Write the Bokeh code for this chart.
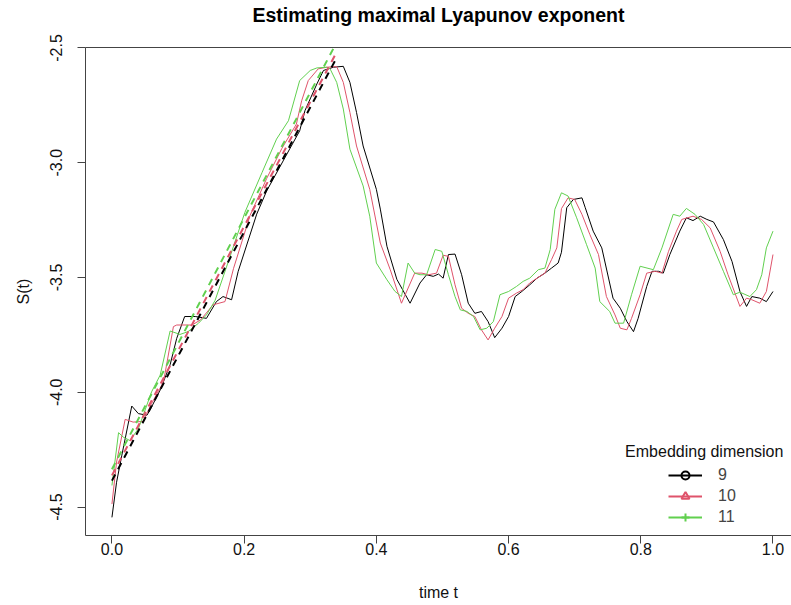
from bokeh.plotting import figure
from bokeh.models import (LinearAxis, FixedTicker, PrintfTickFormatter, Legend,
                          LegendItem, Label, Range1d)
from bokeh.embed import file_html
from bokeh.resources import INLINE

# ---------------- data ----------------
dims = ["9", "10", "11"]
colors = ["#000000", "#DF536B", "#61D04F"]
markers = ["circle", "triangle", "cross"]
marker_sizes = [6, 9, 11]

t9 = [0.000, 0.007, 0.015, 0.030, 0.040, 0.053, 0.060, 0.073, 0.088, 0.098, 0.110, 0.126,
      0.143, 0.158, 0.168, 0.181, 0.191, 0.219, 0.234, 0.259, 0.284, 0.292, 0.310, 0.320,
      0.335, 0.350, 0.360, 0.370, 0.380, 0.400, 0.406, 0.416, 0.431, 0.451, 0.466, 0.476,
      0.486, 0.494, 0.501, 0.509, 0.519, 0.529, 0.539, 0.549, 0.559, 0.569, 0.579, 0.590,
      0.600, 0.610, 0.620, 0.632, 0.643, 0.655, 0.665, 0.675, 0.680, 0.688, 0.698, 0.711,
      0.716, 0.728, 0.741, 0.758, 0.769, 0.779, 0.789, 0.796, 0.809, 0.817, 0.827, 0.834,
      0.844, 0.859, 0.869, 0.879, 0.890, 0.900, 0.910, 0.925, 0.938, 0.950, 0.960, 0.968,
      0.980, 0.990, 1.000]
s9 = [-4.545, -4.392, -4.274, -4.060, -4.093, -4.100, -4.064, -3.990, -3.880, -3.765, -3.670,
      -3.670, -3.678, -3.605, -3.583, -3.597, -3.473, -3.224, -3.123, -2.992, -2.861, -2.773,
      -2.657, -2.598, -2.584, -2.580, -2.650, -2.781, -2.927, -3.116, -3.202, -3.364, -3.508,
      -3.612, -3.524, -3.488, -3.495, -3.485, -3.503, -3.400, -3.398, -3.488, -3.612, -3.656,
      -3.648, -3.692, -3.762, -3.721, -3.670, -3.583, -3.561, -3.532, -3.503, -3.481, -3.459,
      -3.437, -3.390, -3.196, -3.160, -3.153, -3.196, -3.298, -3.371, -3.590, -3.634, -3.692,
      -3.736, -3.678, -3.539, -3.473, -3.473, -3.481, -3.400, -3.298, -3.240, -3.252, -3.233,
      -3.247, -3.258, -3.335, -3.430, -3.561, -3.626, -3.583, -3.590, -3.605, -3.561]

t10 = [0.000, 0.007, 0.020, 0.032, 0.047, 0.060, 0.078, 0.093, 0.098, 0.121, 0.134, 0.153,
       0.171, 0.184, 0.209, 0.234, 0.257, 0.279, 0.287, 0.297, 0.312, 0.325, 0.340, 0.350,
       0.360, 0.370, 0.390, 0.406, 0.421, 0.438, 0.458, 0.469, 0.479, 0.491, 0.501, 0.509,
       0.519, 0.529, 0.539, 0.549, 0.559, 0.569, 0.579, 0.590, 0.600, 0.612, 0.622, 0.632,
       0.643, 0.655, 0.665, 0.673, 0.680, 0.690, 0.700, 0.711, 0.723, 0.736, 0.748, 0.761,
       0.769, 0.779, 0.786, 0.799, 0.809, 0.822, 0.832, 0.842, 0.854, 0.862, 0.879, 0.892,
       0.905, 0.920, 0.932, 0.950, 0.960, 0.968, 0.980, 0.990, 1.000]
s10 = [-4.487, -4.304, -4.118, -4.130, -4.127, -4.049, -3.955, -3.714, -3.707, -3.707, -3.685,
       -3.619, -3.605, -3.460, -3.229, -3.069, -2.938, -2.832, -2.730, -2.642, -2.591, -2.584,
       -2.581, -2.650, -2.781, -2.927, -3.116, -3.350, -3.466, -3.612, -3.481, -3.481, -3.488,
       -3.481, -3.403, -3.408, -3.532, -3.634, -3.656, -3.670, -3.728, -3.772, -3.721, -3.670,
       -3.590, -3.568, -3.553, -3.524, -3.503, -3.481, -3.422, -3.371, -3.200, -3.153, -3.160,
       -3.225, -3.313, -3.400, -3.583, -3.663, -3.721, -3.728, -3.678, -3.575, -3.481, -3.473,
       -3.481, -3.386, -3.298, -3.247, -3.233, -3.247, -3.284, -3.386, -3.488, -3.626, -3.590,
       -3.597, -3.612, -3.561, -3.400]

t11 = [0.000, 0.010, 0.017, 0.027, 0.040, 0.060, 0.073, 0.088, 0.103, 0.115, 0.131, 0.143,
       0.156, 0.179, 0.201, 0.227, 0.249, 0.267, 0.272, 0.284, 0.300, 0.310, 0.325, 0.330,
       0.340, 0.350, 0.360, 0.380, 0.390, 0.400, 0.416, 0.428, 0.438, 0.448, 0.458, 0.466,
       0.476, 0.489, 0.499, 0.509, 0.519, 0.527, 0.537, 0.547, 0.557, 0.567, 0.577, 0.587,
       0.600, 0.612, 0.622, 0.632, 0.645, 0.655, 0.663, 0.670, 0.680, 0.690, 0.703, 0.718,
       0.731, 0.738, 0.753, 0.761, 0.774, 0.786, 0.799, 0.819, 0.832, 0.849, 0.859, 0.869,
       0.882, 0.895, 0.910, 0.925, 0.940, 0.950, 0.965, 0.975, 0.983, 0.990, 1.000]
s11 = [-4.406, -4.176, -4.195, -4.210, -4.159, -3.998, -3.925, -3.733, -3.748, -3.736, -3.699,
       -3.663, -3.600, -3.406, -3.217, -3.043, -2.897, -2.817, -2.766, -2.642, -2.598, -2.587,
       -2.584, -2.591, -2.650, -2.766, -2.941, -3.101, -3.233, -3.437, -3.510, -3.560, -3.583,
       -3.437, -3.481, -3.488, -3.488, -3.378, -3.386, -3.488, -3.583, -3.641, -3.648, -3.670,
       -3.728, -3.721, -3.692, -3.575, -3.561, -3.539, -3.517, -3.503, -3.466, -3.459, -3.378,
       -3.203, -3.131, -3.145, -3.240, -3.357, -3.459, -3.605, -3.648, -3.699, -3.699, -3.575,
       -3.451, -3.466, -3.371, -3.225, -3.233, -3.199, -3.225, -3.269, -3.371, -3.473, -3.575,
       -3.564, -3.583, -3.553, -3.488, -3.371, -3.298]

# fitted regression lines (start and end of the fit region)
reg_t = [0.0, 0.34]
reg9 = [-4.385, -2.542]
reg10 = [-4.362, -2.518]
reg11 = [-4.335, -2.475]

x_ticks = [0.0, 0.2, 0.4, 0.6, 0.8, 1.0]
y_ticks = [-4.5, -4.0, -3.5, -3.0, -2.5]

series_t = [t9, t10, t11]
series_s = [s9, s10, s11]
regs = [reg9, reg10, reg11]

TITLE = "Estimating maximal Lyapunov exponent"
FONT = "Liberation Sans"
AXCOL = "#444444"
NAN = float("nan")

p = figure(width=791, height=605, output_backend="svg", toolbar_location=None,
           x_range=Range1d(-0.04, 1.028), y_range=Range1d(-4.624, -2.498),
           min_border_left=85, min_border_right=0, min_border_top=47, min_border_bottom=70,
           x_axis_label="time t", y_axis_label="S(t)")
p.grid.visible = False
p.outline_line_color = None
p.background_fill_color = "white"
p.border_fill_color = "white"

for ax in [p.xaxis[0], p.yaxis[0]]:
    ax.axis_line_color = AXCOL
    ax.major_tick_line_color = AXCOL
    ax.minor_tick_line_color = None
    ax.major_tick_in = 0
    ax.major_tick_out = 8
    ax.major_label_text_font = FONT
    ax.major_label_text_font_size = "16px"
    ax.major_label_text_color = "#111111"
    ax.axis_label_text_font = FONT
    ax.axis_label_text_font_size = "16px"
    ax.axis_label_text_font_style = "normal"
    ax.axis_label_text_color = "#111111"
    ax.formatter = PrintfTickFormatter(format="%.1f")

p.xaxis[0].ticker = FixedTicker(ticks=x_ticks)
p.yaxis[0].ticker = FixedTicker(ticks=y_ticks)
p.yaxis[0].major_label_orientation = "vertical"
p.xaxis[0].major_label_standoff = -1
p.xaxis[0].axis_label_standoff = 26
p.yaxis[0].major_label_standoff = 15
p.yaxis[0].axis_label_standoff = 16

# top side of the box: an axis with no ticks, carrying the main title as its label
top = LinearAxis(ticker=FixedTicker(ticks=[]), axis_line_color=AXCOL,
                 major_tick_out=0, major_tick_in=0, major_tick_line_color=None,
                 minor_tick_line_color=None,
                 major_label_text_font_size="0px", major_label_standoff=0,
                 axis_label=TITLE, axis_label_text_font=FONT,
                 axis_label_text_font_size="19.5px", axis_label_text_font_style="bold",
                 axis_label_text_color="#000000", axis_label_standoff=22)
p.add_layout(top, "above")

for t, s, c in zip(series_t, series_s, colors):
    p.line(t, s, line_color=c, line_width=1)

for r, c in zip(regs, colors):
    p.line(reg_t, r, line_color=c, line_width=2, line_dash="7 6")

# legend-only renderers (a single NaN point: nothing shows in the plot area)
items = []
for d, c, m, ms in zip(dims, colors, markers, marker_sizes):
    lr = p.line(x=[NAN], y=[NAN], line_color=c, line_width=2)
    mr = p.scatter(x=[NAN], y=[NAN], marker=m, size=ms, line_color=c, fill_color=None,
                   line_width=2)
    items.append(LegendItem(label=d, renderers=[lr, mr]))

legend = Legend(items=items, location=(583, 8), border_line_color=None,
                background_fill_alpha=0, label_text_font=FONT, label_text_font_size="16px",
                glyph_width=34, glyph_height=20, label_height=20, label_standoff=16,
                padding=0, margin=0, spacing=1)
p.add_layout(legend)

p.add_layout(Label(x=0.896, y=-4.26, text="Embedding dimension", text_align="center",
                   text_baseline="middle", text_font=FONT, text_font_size="16px",
                   text_color="#111111"))

open("out.html", "w").write(file_html(p, INLINE))
